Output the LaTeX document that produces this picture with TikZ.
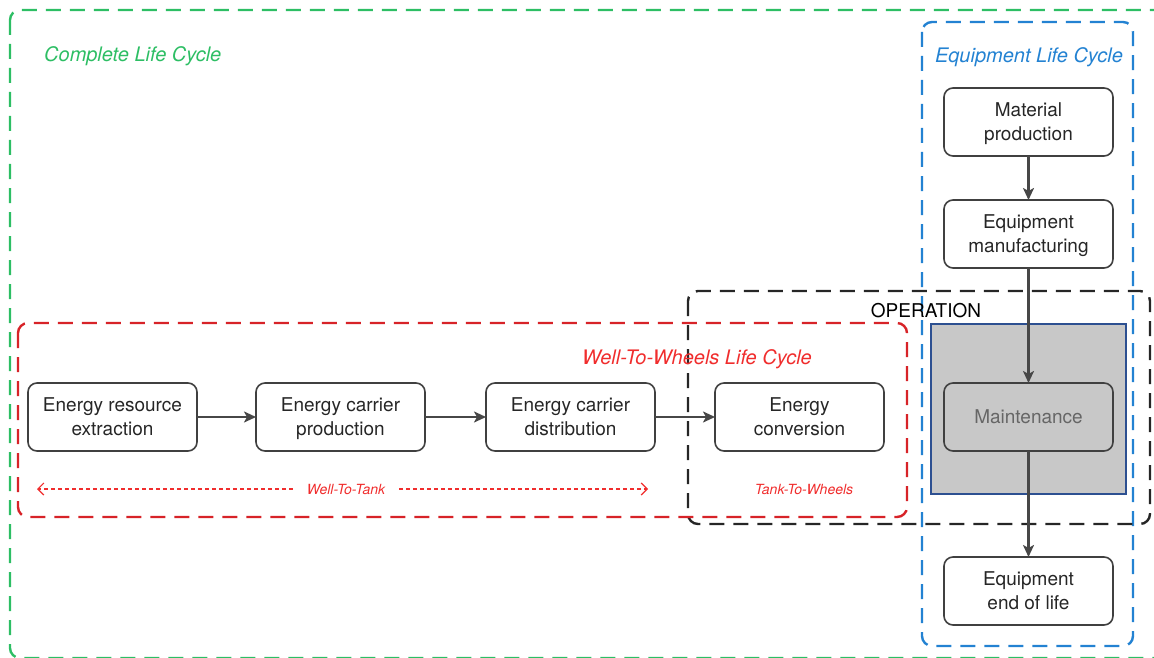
\documentclass[tikz,border=0pt]{standalone}
\usepackage{fontspec}
\setmainfont{TeX Gyre Heros}
\usepackage{xcolor}
\usepackage{tikz}
\usetikzlibrary{arrows.meta,positioning}

\definecolor{lcgreen}{RGB}{45,190,100}
\definecolor{eqblue}{RGB}{35,130,210}
\definecolor{wtwred}{RGB}{215,35,40}
\definecolor{wtwtext}{RGB}{240,45,45}
\definecolor{maintgray}{RGB}{200,200,200}
\definecolor{opblue}{RGB}{45,80,145}
\newcommand\lnstrut{\rule[-5.75pt]{0pt}{24.5pt}}

\begin{document}
\begin{tikzpicture}[x=1pt,y=-1pt,
    every node/.style={font=\fontsize{19}{24.5}\selectfont},
    stepbox/.style={draw=black!75,line width=1.6pt,rounded corners=9pt,outer sep=0pt,
      minimum width=169pt,minimum height=68pt,align=center,text=black!85},
    flow/.style={draw=black!72,line width=2.4pt,-{Stealth[length=12pt,width=11pt,inset=3pt]}},
    lcframe/.style={line width=2.4pt,rounded corners=10pt,dash pattern=on 15pt off 9pt},
    wttline/.style={draw=wtwtext,line width=1.2pt,dash pattern=on 4pt off 3pt,
      -{Straight Barb[length=6pt,width=12pt]}},
    cyclelabel/.style={font=\fontsize{20}{24}\selectfont\itshape,inner sep=0pt},
    spanlabel/.style={font=\fontsize{14}{16}\selectfont\itshape,text=wtwtext,inner xsep=14pt}]
    \clip (0,0) rectangle (1154,658);
    \draw[lcframe,draw=lcgreen] (10,10) rectangle (1175,658);
    \draw[lcframe,draw=eqblue] (922,22) rectangle (1133,646);
    \draw[lcframe,draw=black!85] (688,291) rectangle (1150,524);
    \draw[lcframe,draw=wtwred] (18,323) rectangle (907,517);
    \filldraw[fill=maintgray,draw=opblue,line width=2pt] (931,324) rectangle (1126,494);

    \node[cyclelabel,text=lcgreen,anchor=west] (cl) at (44,56) {Complete Life Cycle};
    \node[cyclelabel,text=eqblue] (el) at (1029,57) {Equipment Life Cycle};
    \node[cyclelabel,text=wtwtext] (wl) at (697,359) {Well-To-Wheels Life Cycle};
    \node[inner sep=0pt] (op) at (926,311) {OPERATION};

    \node[stepbox] (ext) at (112.5,417) {Energy resource\lnstrut\\extraction\lnstrut};
    \node[stepbox,right=59pt of ext] (prod) {Energy carrier\lnstrut\\production\lnstrut};
    \node[stepbox,right=61pt of prod] (dist) {Energy carrier\lnstrut\\distribution\lnstrut};
    \node[stepbox,right=60pt of dist] (conv) {Energy\lnstrut\\conversion\lnstrut};
    \node[stepbox,right=60pt of conv,fill=maintgray,text=black!60] (maint) {Maintenance};
    \node[stepbox,above=115pt of maint] (manuf) {Equipment\lnstrut\\manufacturing\lnstrut};
    \node[stepbox,above=44pt of manuf] (mat) {Material\lnstrut\\production\lnstrut};
    \node[stepbox,below=106pt of maint] (eol) {Equipment\lnstrut\\end of life\lnstrut};

    \node[spanlabel] (wtt) at (346,489) {Well-To-Tank};
    \node[spanlabel] (ttw) at (804,489) {Tank-To-Wheels};
    \coordinate (wttL) at (37,489);
    \coordinate (wttR) at (648,489);
    \draw[wttline] (wtt) -- (wttL);
    \draw[wttline] (wtt) -- (wttR);

    \draw[flow] (ext) -- (prod);
    \draw[flow] (prod) -- (dist);
    \draw[flow] (dist) -- (conv);
    \draw[flow] (mat) -- (manuf);
    \draw[flow] (manuf) -- (maint);
    \draw[flow] (maint) -- (eol);
  \end{tikzpicture}
\end{document}
